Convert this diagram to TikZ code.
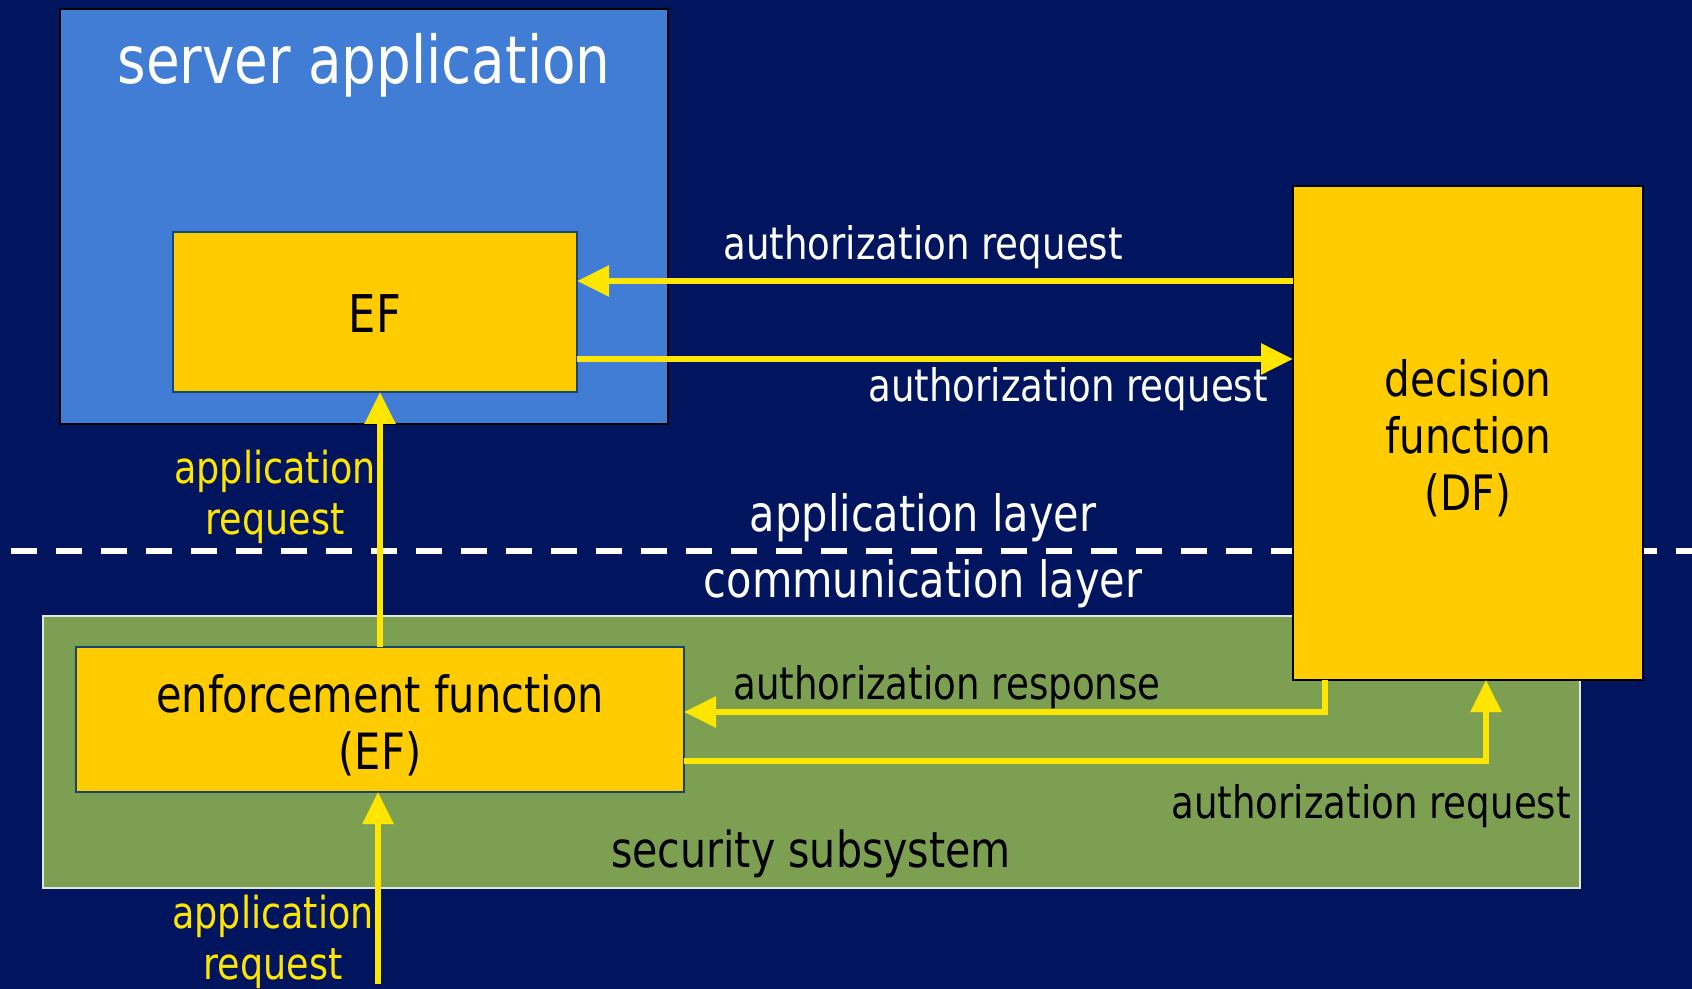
\documentclass[tikz,border=0pt]{standalone}
\usepackage{fontspec}
\setmainfont{DejaVu Sans}[FakeStretch=0.83]
\usetikzlibrary{arrows.meta}
\definecolor{navy}{RGB}{0,21,94}
\definecolor{sblue}{RGB}{65,124,213}
\definecolor{gold}{RGB}{255,204,0}
\definecolor{ayellow}{RGB}{255,230,0}
\definecolor{sgreen}{RGB}{125,159,82}
\definecolor{efborder}{RGB}{20,70,120}
\definecolor{gborder}{RGB}{225,230,225}
\tikzset{
  box/.style={rectangle, inner sep=0pt, outer sep=0pt},
  arr/.style={draw=ayellow, line width=3pt, -{Triangle[length=16pt,width=15pt]}},
  lbl/.style={inner sep=0pt, outer sep=0pt},
}
\begin{document}
\begin{tikzpicture}[x=0.5pt,y=-0.5pt]
\fill[navy] (0,0) rectangle (1692,989);
\useasboundingbox (0,0) rectangle (1692,989);

% server application
\node[box, fill=sblue, draw=black, line width=1pt, minimum width=304pt, minimum height=207.5pt] (server) at (364,216.5) {};
\node[lbl, anchor=base, text=white, font=\fontsize{33}{36}\selectfont] (title) at (364,84) {server application};
\node[box, fill=gold, draw=efborder, line width=0.8pt, minimum width=202pt, minimum height=80pt] (ef) at (375,312) {};
\node[lbl, font=\fontsize{26}{30}\selectfont] (eft) at ([yshift=-1pt]ef.center) {EF};

% dashed layer line
\coordinate (dashL) at (11,551);
\coordinate (dashR) at (1692,551);
\draw[white, line width=2.7pt, dash pattern=on 13pt off 9.5pt] (dashL) -- (dashR);

% security subsystem
\node[box, fill=sgreen, draw=gborder, line width=1pt, minimum width=768.5pt, minimum height=136pt] (sec) at (811.5,752) {};
\node[box, fill=gold, draw=efborder, line width=0.8pt, minimum width=304pt, minimum height=72.5pt] (enf) at (380,719.5) {};
\node[lbl, align=center, font=\fontsize{25}{28.5}\selectfont] (enft) at ([yshift=-3pt]enf.center) {enforcement function\\(EF)};

% decision function
\node[box, fill=gold, draw=black, line width=1pt, minimum width=175pt, minimum height=247pt] (df) at (1468,433) {};
\node[lbl, align=center, font=\fontsize{24.4}{28.5}\selectfont] (dft) at ([yshift=-2.5pt]df.center) {decision\\function\\(DF)};

% connectors
\draw[arr] (df.west |- 0,281) -- (ef.east |- 0,281);
\draw[arr] (ef.east |- 0,359) -- (df.west |- 0,359);
\draw[arr] (enf.north) -- (enf.north |- ef.south);
\draw[arr] (df.south -| 1325,0) |- (enf.east |- 0,712);
\draw[arr] (enf.east |- 0,761) -| (df.south -| 1486,0);
\coordinate (src) at (378,984);
\draw[arr] (src) -- (src |- enf.south);

% labels
\node[lbl, anchor=base, text=white, font=\fontsize{22.4}{26}\selectfont] (l1) at (923,260) {authorization request};
\node[lbl, anchor=base, text=white, font=\fontsize{22.4}{26}\selectfont] (l2) at (1068,402) {authorization request};
\node[lbl, align=center, text=ayellow, font=\fontsize{22}{25.5}\selectfont] (l3) at (275,497) {application\\request};
\node[lbl, anchor=base, text=white, font=\fontsize{25}{28}\selectfont] (l4) at (923,531) {application layer};
\node[lbl, anchor=base, text=white, font=\fontsize{25}{28}\selectfont] (l5) at (923,597) {communication layer};
\node[lbl, anchor=base, text=black, font=\fontsize{22.4}{26}\selectfont] (l6) at (947,699) {authorization response};
\node[lbl, anchor=base, text=black, font=\fontsize{22.4}{26}\selectfont] (l7) at (1371,818) {authorization request};
\node[lbl, anchor=base, text=black, font=\fontsize{24.8}{28}\selectfont] (l8) at (811,867) {security subsystem};
\node[lbl, align=center, text=ayellow, font=\fontsize{22}{25.5}\selectfont] (l9) at (273,942) {application\\request};
\end{tikzpicture}
\end{document}
